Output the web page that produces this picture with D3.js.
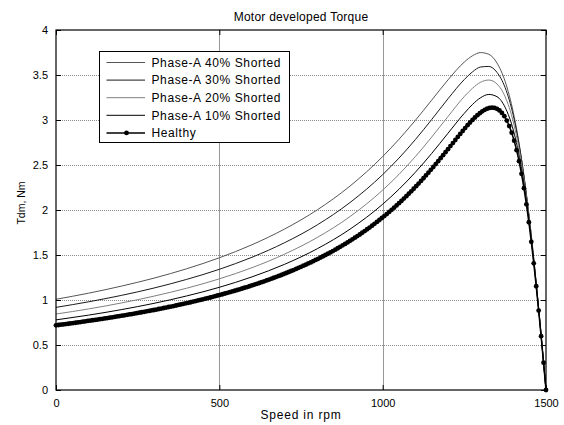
<!DOCTYPE html>
<html>
<head>
<meta charset="utf-8">
<script src="https://cdn.jsdelivr.net/npm/d3@7/dist/d3.min.js"></script>
<style>
  body { margin: 0; background: #fff; }
  svg { display: block; font-family: "Liberation Sans", Arial, sans-serif; }
  .tick text { font-size: 11px; }
</style>
</head>
<body>
<svg width="564" height="425"></svg>
<script>
// healthy motor: speed (rpm) and developed torque (Nm), one marker per 7.5 rpm sample
var healthySpeed = [0, 7.5, 15, 22.5, 30, 37.5, 45, 52.5, 60, 67.5, 75, 82.5, 90, 97.5, 105, 112.5, 120, 127.5, 135, 142.5,
  150, 157.5, 165, 172.5, 180, 187.5, 195, 202.5, 210, 217.5, 225, 232.5, 240, 247.5, 255, 262.5, 270, 277.5, 285, 292.5,
  300, 307.5, 315, 322.5, 330, 337.5, 345, 352.5, 360, 367.5, 375, 382.5, 390, 397.5, 405, 412.5, 420, 427.5, 435, 442.5,
  450, 457.5, 465, 472.5, 480, 487.5, 495, 502.5, 510, 517.5, 525, 532.5, 540, 547.5, 555, 562.5, 570, 577.5, 585, 592.5,
  600, 607.5, 615, 622.5, 630, 637.5, 645, 652.5, 660, 667.5, 675, 682.5, 690, 697.5, 705, 712.5, 720, 727.5, 735, 742.5,
  750, 757.5, 765, 772.5, 780, 787.5, 795, 802.5, 810, 817.5, 825, 832.5, 840, 847.5, 855, 862.5, 870, 877.5, 885, 892.5,
  900, 907.5, 915, 922.5, 930, 937.5, 945, 952.5, 960, 967.5, 975, 982.5, 990, 997.5, 1005, 1012.5, 1020, 1027.5, 1035, 1042.5,
  1050, 1057.5, 1065, 1072.5, 1080, 1087.5, 1095, 1102.5, 1110, 1117.5, 1125, 1132.5, 1140, 1147.5, 1155, 1162.5, 1170, 1177.5, 1185, 1192.5,
  1200, 1207.5, 1215, 1222.5, 1230, 1237.5, 1245, 1252.5, 1260, 1267.5, 1275, 1282.5, 1290, 1297.5, 1305, 1312.5, 1320, 1327.5, 1335, 1342.5,
  1350, 1357.5, 1365, 1372.5, 1380, 1387.5, 1395, 1402.5, 1410, 1417.5, 1425, 1432.5, 1440, 1447.5, 1455, 1462.5, 1470, 1477.5, 1485, 1492.5,
  1500];
var healthyTorque = [0.719, 0.722, 0.726, 0.729, 0.733, 0.736, 0.740, 0.744, 0.747, 0.751, 0.755, 0.759, 0.763, 0.767, 0.771, 0.775, 0.779, 0.783, 0.787, 0.791,
  0.795, 0.799, 0.804, 0.808, 0.812, 0.817, 0.821, 0.826, 0.830, 0.835, 0.840, 0.844, 0.849, 0.854, 0.859, 0.864, 0.869, 0.874, 0.879, 0.884,
  0.889, 0.894, 0.900, 0.905, 0.911, 0.916, 0.922, 0.927, 0.933, 0.939, 0.945, 0.951, 0.957, 0.963, 0.969, 0.975, 0.982, 0.988, 0.995, 1.001,
  1.008, 1.015, 1.021, 1.028, 1.035, 1.043, 1.050, 1.057, 1.064, 1.072, 1.080, 1.087, 1.095, 1.103, 1.111, 1.119, 1.128, 1.136, 1.144, 1.153,
  1.162, 1.171, 1.180, 1.189, 1.198, 1.208, 1.217, 1.227, 1.237, 1.247, 1.257, 1.268, 1.278, 1.289, 1.300, 1.311, 1.322, 1.333, 1.345, 1.357,
  1.369, 1.381, 1.393, 1.406, 1.418, 1.431, 1.445, 1.458, 1.472, 1.486, 1.500, 1.514, 1.529, 1.544, 1.559, 1.575, 1.591, 1.607, 1.623, 1.640,
  1.657, 1.674, 1.692, 1.710, 1.728, 1.747, 1.766, 1.786, 1.805, 1.826, 1.846, 1.867, 1.889, 1.911, 1.933, 1.955, 1.979, 2.002, 2.026, 2.051,
  2.076, 2.101, 2.127, 2.154, 2.181, 2.208, 2.236, 2.265, 2.294, 2.323, 2.353, 2.384, 2.415, 2.446, 2.478, 2.510, 2.543, 2.576, 2.609, 2.643,
  2.676, 2.710, 2.744, 2.778, 2.812, 2.845, 2.878, 2.910, 2.942, 2.972, 3.001, 3.028, 3.054, 3.076, 3.096, 3.113, 3.126, 3.134, 3.137, 3.134,
  3.124, 3.106, 3.079, 3.042, 2.994, 2.933, 2.859, 2.770, 2.665, 2.543, 2.402, 2.243, 2.063, 1.864, 1.646, 1.408, 1.153, 0.882, 0.598, 0.303,
  0];

// shorted-phase curves share one speed grid
var faultSpeed = [0, 100, 200, 300, 400, 500, 600, 700, 800, 900, 1000, 1050, 1100, 1150, 1200, 1250, 1275, 1300, 1325,
  1350, 1375, 1400, 1425, 1450, 1475, 1500];
var short40 = [1.008, 1.076, 1.154, 1.243, 1.347, 1.469, 1.614, 1.789, 2.002, 2.266, 2.594, 2.786, 2.996, 3.220, 3.446,
  3.644, 3.714, 3.749, 3.730, 3.633, 3.428, 3.083, 2.568, 1.868, 0.995, 0];
var short30 = [0.918, 0.980, 1.051, 1.133, 1.229, 1.341, 1.475, 1.637, 1.835, 2.083, 2.393, 2.577, 2.782, 3.005, 3.236,
  3.450, 3.535, 3.589, 3.595, 3.529, 3.359, 3.049, 2.563, 1.879, 1.006, 0];
var short20 = [0.844, 0.901, 0.967, 1.043, 1.131, 1.235, 1.359, 1.510, 1.695, 1.927, 2.221, 2.396, 2.593, 2.810, 3.039,
  3.261, 3.353, 3.420, 3.444, 3.400, 3.258, 2.978, 2.521, 1.860, 1.001, 0];
var short10 = [0.779, 0.832, 0.893, 0.963, 1.045, 1.141, 1.257, 1.397, 1.570, 1.787, 2.064, 2.231, 2.419, 2.628, 2.853,
  3.075, 3.173, 3.248, 3.284, 3.259, 3.140, 2.887, 2.459, 1.825, 0.987, 0];

var seriesNames = ["Phase-A 40% Shorted", "Phase-A 30% Shorted", "Phase-A 20% Shorted", "Phase-A 10% Shorted", "Healthy"];
var seriesColors = ["#555555", "#1a1a1a", "#808080", "#000000", "#000000"];
var xTicks = [0, 500, 1000, 1500];
var yTicks = [0, 0.5, 1, 1.5, 2, 2.5, 3, 3.5, 4];

var svg = d3.select("svg");
var margin = {top: 30, right: 18, bottom: 35, left: 56};
var width = 564 - margin.left - margin.right;
var height = 425 - margin.top - margin.bottom;

var x = d3.scaleLinear().domain([0, 1500]).range([0, width]);
var y = d3.scaleLinear().domain([0, 4]).range([height, 0]);

var g = svg.append("g")
    .attr("transform", "translate(" + margin.left + "," + margin.top + ")");

// grid
g.append("g")
    .attr("class", "grid-y")
  .selectAll("line")
  .data(yTicks.slice(1, -1))
  .enter().append("line")
    .attr("x1", 0)
    .attr("x2", width)
    .attr("y1", function(d) { return Math.round(y(d)) + 0.5; })
    .attr("y2", function(d) { return Math.round(y(d)) + 0.5; })
    .style("stroke", "#8a8a8a")
    .style("stroke-dasharray", "1,1");
g.append("g")
    .attr("class", "grid-x")
  .selectAll("line")
  .data(xTicks.slice(1, -1))
  .enter().append("line")
    .attr("x1", function(d) { return Math.round(x(d)) + 0.5; })
    .attr("x2", function(d) { return Math.round(x(d)) + 0.5; })
    .attr("y1", 0)
    .attr("y2", height)
    .style("stroke", "#8c8c8c")
    .style("stroke-width", 0.9);

// axes, MATLAB style: ticks inside, box all round
var tickLen = 5;
var plain = d3.format("");
g.append("g")
    .attr("transform", "translate(0," + height + ")")
    .call(d3.axisBottom(x).tickValues(xTicks).tickSizeInner(-tickLen).tickSizeOuter(0).tickPadding(9).tickFormat(plain))
    .call(function(a) { a.select(".domain").remove(); });
g.append("g")
    .call(d3.axisTop(x).tickValues(xTicks).tickSizeInner(-tickLen).tickSizeOuter(0).tickFormat(""))
    .call(function(a) { a.select(".domain").remove(); });
g.append("g")
    .call(d3.axisLeft(y).tickValues(yTicks).tickSizeInner(-tickLen).tickSizeOuter(0).tickPadding(8).tickFormat(plain))
    .call(function(a) { a.select(".domain").remove(); });
g.append("g")
    .attr("transform", "translate(" + width + ",0)")
    .call(d3.axisRight(y).tickValues(yTicks).tickSizeInner(-tickLen).tickSizeOuter(0).tickFormat(""))
    .call(function(a) { a.select(".domain").remove(); });
g.selectAll(".tick text").style("fill", "#000");

// curves
var faultData = [short40, short30, short20, short10];
var line = d3.line()
    .x(function(d) { return x(d[0]); })
    .y(function(d) { return y(d[1]); });

faultData.forEach(function(series, i) {
  g.append("path")
      .datum(faultSpeed.map(function(s, j) { return [s, series[j]]; }))
      .attr("d", line.curve(d3.curveMonotoneX))
      .style("fill", "none")
      .style("stroke", seriesColors[i])
      .style("stroke-width", 1);
});

var healthy = healthySpeed.map(function(s, j) { return [s, healthyTorque[j]]; });
g.append("path")
    .datum(healthy)
    .attr("d", line.curve(d3.curveLinear))
    .style("fill", "none")
    .style("stroke", "#000")
    .style("stroke-width", 1.5);
g.append("g")
  .selectAll("circle")
  .data(healthy)
  .enter().append("circle")
    .attr("cx", function(d) { return x(d[0]); })
    .attr("cy", function(d) { return y(d[1]); })
    .attr("r", 2.4)
    .style("fill", "#000");

// box
g.append("rect")
    .attr("x", 0)
    .attr("y", 0)
    .attr("width", width)
    .attr("height", height)
    .style("fill", "none")
    .style("stroke", "#000")
    .style("stroke-width", 1.2);

// legend
var legend = svg.append("g")
    .attr("transform", "translate(99.5,51.5)");
legend.append("rect")
    .attr("width", 190)
    .attr("height", 91)
    .style("fill", "#fff")
    .style("stroke", "#000");
var item = legend.selectAll(".item")
    .data(seriesNames)
    .enter().append("g")
    .attr("transform", function(d, i) { return "translate(0," + (11 + i * 17.6) + ")"; });
item.append("line")
    .attr("x1", 7)
    .attr("x2", 45.5)
    .style("stroke", function(d, i) { return seriesColors[i]; })
    .style("stroke-width", function(d, i) { return i == 4 ? 1.5 : 1; });
item.filter(function(d, i) { return i == 4; })
  .append("circle")
    .attr("cx", 27)
    .attr("r", 2.4)
    .style("fill", "#000");
item.append("text")
    .attr("x", 52)
    .attr("dy", "0.35em")
    .style("font-size", "12px")
    .style("letter-spacing", "0.6px")
    .text(function(d) { return d; });

// titles
svg.append("text")
    .attr("x", margin.left + width / 2)
    .attr("y", 21)
    .attr("text-anchor", "middle")
    .style("font-size", "12px")
    .style("letter-spacing", "0.25px")
    .text("Motor developed Torque");
svg.append("text")
    .attr("x", margin.left + width / 2)
    .attr("y", 419)
    .attr("text-anchor", "middle")
    .style("font-size", "12px")
    .style("letter-spacing", "0.8px")
    .text("Speed in rpm");
svg.append("text")
    .attr("transform", "translate(25,203) rotate(-90)")
    .attr("text-anchor", "middle")
    .style("font-size", "10.5px")
    .text("Tdm, Nm");
</script>
</body>
</html>
